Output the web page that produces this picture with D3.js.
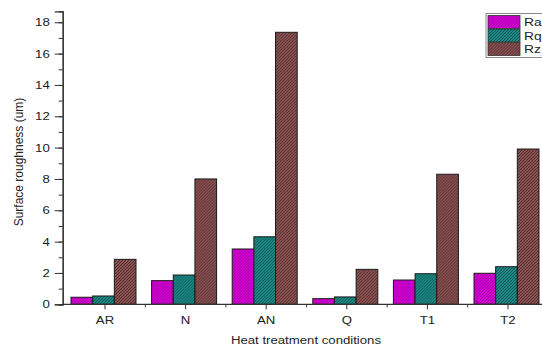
<!DOCTYPE html>
<html>
<head>
<meta charset="utf-8">
<script src="https://d3js.org/d3.v7.min.js"></script>
<style>
  body { margin: 0; background: #fff; }
  svg text { font-family: Arial, "Liberation Sans", sans-serif; fill: #222; }
</style>
</head>
<body>
<svg width="542" height="347"></svg>
<script>
// data
var conditions = ['AR', 'N', 'AN', 'Q', 'T1', 'T2'];
var seriesNames = ['Ra', 'Rq', 'Rz'];
var ra = [0.45, 1.51, 3.53, 0.36, 1.55, 1.98];
var rq = [0.53, 1.87, 4.31, 0.47, 1.95, 2.40];
var rz = [2.87, 8.00, 17.36, 2.23, 8.30, 9.91];
var yTicks = [0, 2, 4, 6, 8, 10, 12, 14, 16, 18];

var fills = { Ra: '#d600d6', Rq: '#1e8884', Rz: '#8a5252' };
var hatch = { Ra: '#9a009a', Rq: '#0c5452', Rz: '#4e2a2a' };
var stretch = 1.2; // the original figure text looks widened

var svg = d3.select('svg');
var defs = svg.append('defs');
seriesNames.forEach(function (s) {
    var p = defs.append('pattern')
        .attr('id', 'h' + s)
        .attr('patternUnits', 'userSpaceOnUse')
        .attr('width', 3).attr('height', 3);
    p.append('rect').attr('width', 3).attr('height', 3).attr('fill', fills[s]);
    p.append('path')
        .attr('d', 'M-1,1 l2,-2 M0,3 l3,-3 M2,4 l2,-2')
        .attr('stroke', hatch[s]).attr('stroke-width', 0.9);
});

var x = d3.scaleBand().domain(conditions).range([64.7, 548.3]);
var inner = d3.scaleBand().domain(seriesNames).range([0, 65]).padding(0);
var y = d3.scaleLinear().domain([0, 18.7]).range([304.3, 11.3]);

var rows = conditions.map(function (c, i) {
    return { cond: c, Ra: ra[i], Rq: rq[i], Rz: rz[i] };
});

function widen(sel) {
    sel.attr('transform', function () {
        var x0 = +d3.select(this).attr('x') || 0;
        return 'translate(' + x0 + ',0) scale(' + stretch + ',1) translate(' + (-x0) + ',0)';
    });
}

// bars
var groups = svg.append('g').selectAll('g')
    .data(rows).enter().append('g')
    .attr('transform', function (d) {
        return 'translate(' + (x(d.cond) + x.bandwidth() / 2 - 34) + ',0)';
    });
groups.selectAll('rect')
    .data(function (d) { return seriesNames.map(function (s) { return { s: s, v: d[s] }; }); })
    .enter().append('rect')
    .attr('x', function (d) { return inner(d.s); })
    .attr('width', inner.bandwidth())
    .attr('y', function (d) { return y(d.v); })
    .attr('height', function (d) { return y(0) - y(d.v); })
    .attr('fill', function (d) { return 'url(#h' + d.s + ')'; })
    .attr('stroke', '#1a1a1a')
    .attr('stroke-width', 1);

// y axis
var yAxis = svg.append('g').attr('transform', 'translate(62.7,0)');
yAxis.call(d3.axisLeft(y).tickValues(d3.range(0, 19, 1)).tickSize(4).tickFormat(''));
yAxis.append('g').call(d3.axisLeft(y).tickValues(yTicks).tickSize(8).tickPadding(5));
yAxis.selectAll('path.domain').attr('stroke', '#333').attr('stroke-width', 1.2);
yAxis.selectAll('.tick line').attr('stroke', '#333');
yAxis.selectAll('text').style('font-size', '11px').attr('fill', '#222').call(widen);

// x axis
var xAxis = svg.append('g').attr('transform', 'translate(0,304.3)');
xAxis.call(d3.axisBottom(x).tickSize(5).tickPadding(7).tickSizeOuter(0));
xAxis.select('path.domain').attr('d', 'M62.7,0H548').attr('stroke', '#333').attr('stroke-width', 1.2);
xAxis.selectAll('.tick line').attr('stroke', '#333');
xAxis.selectAll('text').style('font-size', '11px').attr('fill', '#222').call(widen);
xAxis.selectAll('line.minor')
    .data(conditions.slice(1)).enter().append('line')
    .attr('class', 'minor')
    .attr('x1', function (d) { return x(d); }).attr('x2', function (d) { return x(d); })
    .attr('y1', 0).attr('y2', 3)
    .attr('stroke', '#333');

// axis titles
svg.append('text')
    .attr('x', 306).attr('y', 344)
    .attr('text-anchor', 'middle')
    .style('font-size', '11px')
    .text('Heat treatment conditions')
    .call(widen);
svg.append('text')
    .attr('transform', 'translate(23,162) rotate(-90)')
    .attr('text-anchor', 'middle')
    .style('font-size', '12px')
    .text('Surface roughness (um)');

// legend
var legend = svg.append('g').attr('transform', 'translate(486,13.5)');
legend.append('rect')
    .attr('width', 70).attr('height', 44)
    .attr('fill', '#fff').attr('stroke', '#888');
var items = legend.selectAll('g.item')
    .data(seriesNames).enter().append('g')
    .attr('class', 'item')
    .attr('transform', function (d, i) { return 'translate(2,' + (2 + i * 13.5) + ')'; });
items.append('rect')
    .attr('width', 32).attr('height', 13)
    .attr('fill', function (d) { return 'url(#h' + d + ')'; })
    .attr('stroke', '#333').attr('stroke-width', 0.8);
items.append('text')
    .attr('x', 36).attr('y', 11)
    .style('font-size', '11.5px')
    .text(function (d) { return d; })
    .call(widen);
</script>
</body>
</html>
